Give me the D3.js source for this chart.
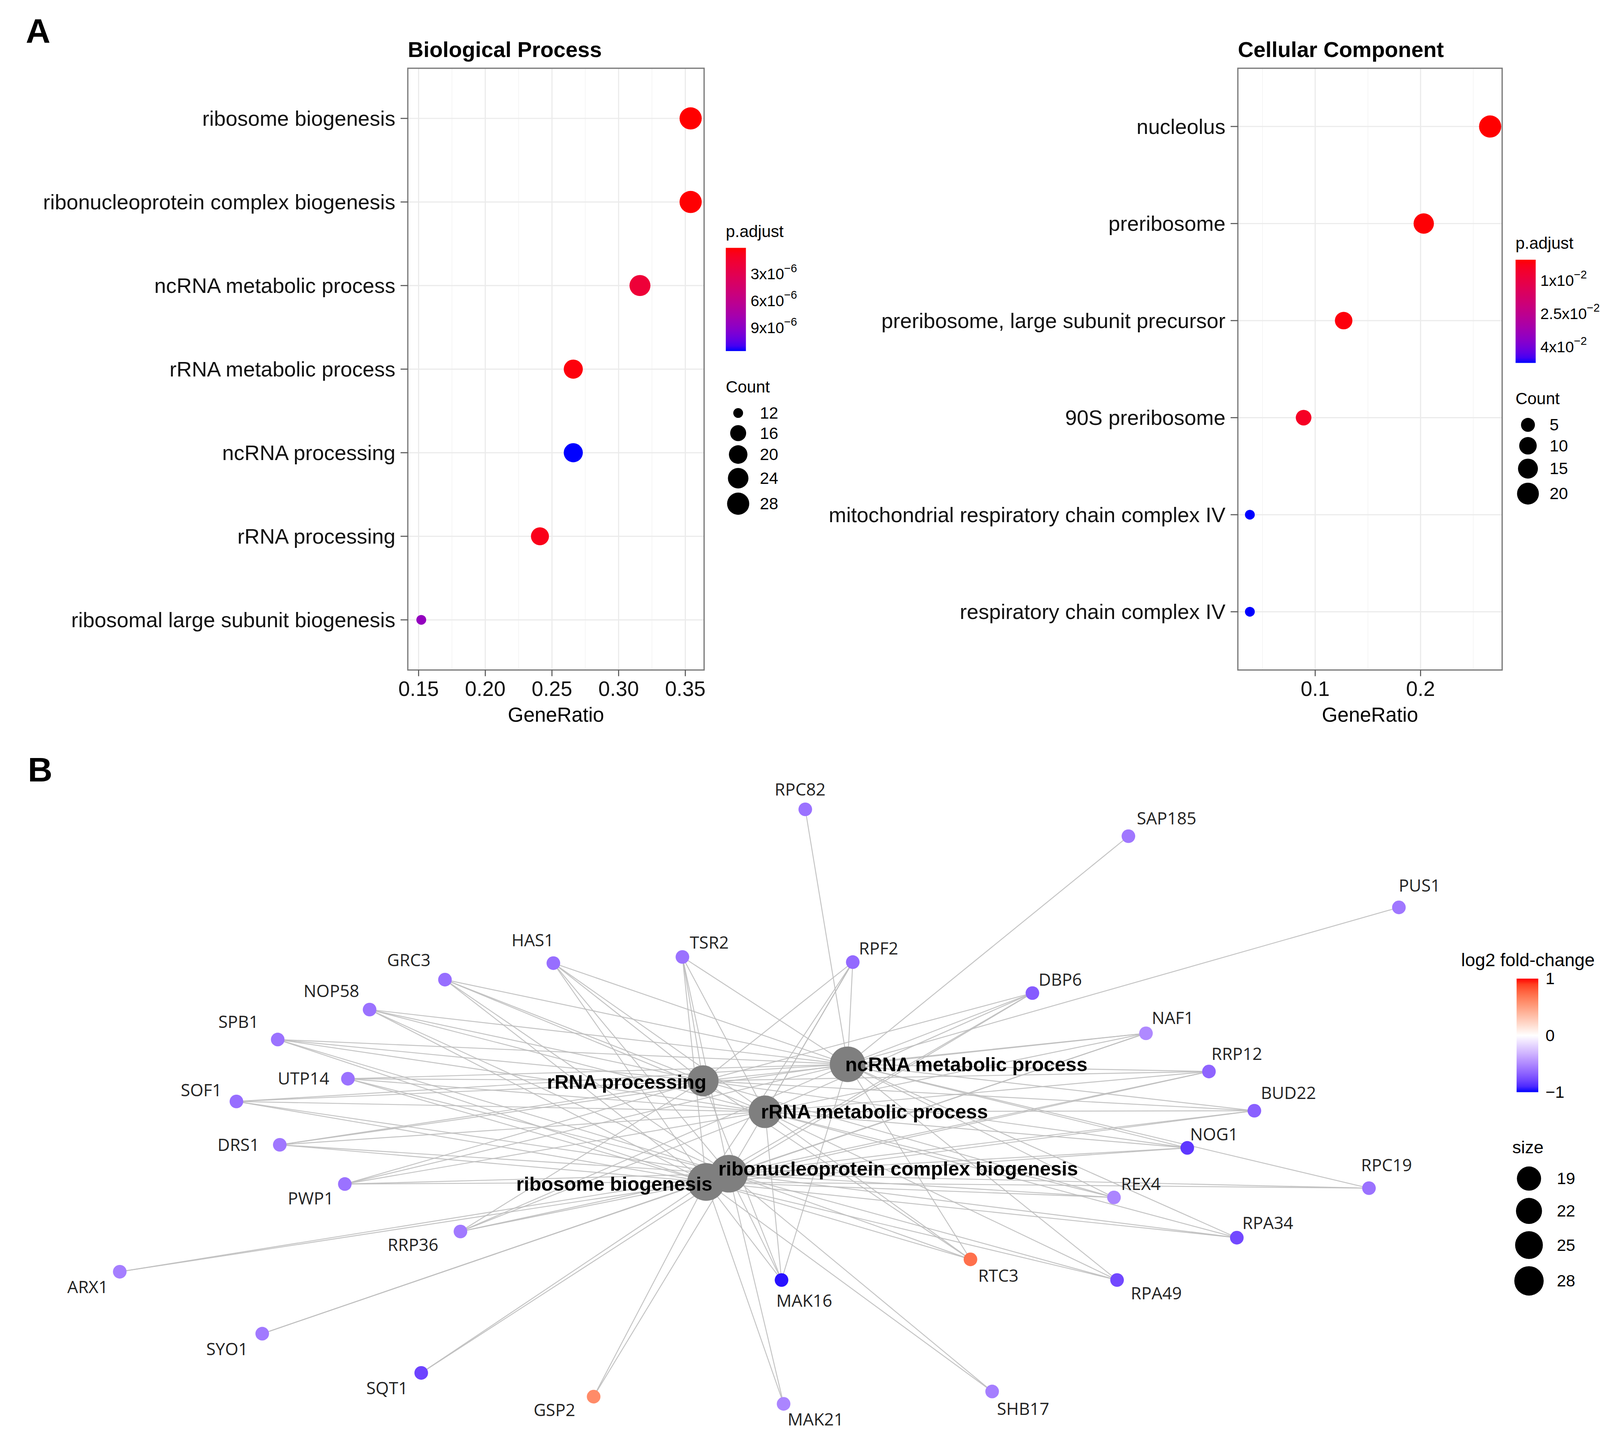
<!DOCTYPE html>
<html>
<head>
<meta charset="utf-8">
<script src="https://cdn.jsdelivr.net/npm/d3@7"></script>
<style>
  body { margin: 0; background: #fff; }
  svg { display: block; }
</style>
</head>
<body>
<div id="chart"></div>
<script>
/* ---------- Data ---------- */
// A: GO enrichment, Biological Process
const bpTerms = ["ribosome biogenesis", "ribonucleoprotein complex biogenesis", "ncRNA metabolic process",
  "rRNA metabolic process", "ncRNA processing", "rRNA processing", "ribosomal large subunit biogenesis"];
const bpRatio = [0.354, 0.354, 0.316, 0.266, 0.266, 0.241, 0.152];
const bpCount = [28, 28, 25, 21, 21, 19, 12];
const bpPadj = [1.2e-7, 1.5e-7, 1.9e-6, 3.5e-7, 1.165e-5, 7e-7, 8.6e-6];
const bpXTicks = [0.15, 0.20, 0.25, 0.30, 0.35];
const bpPTicks = [3e-6, 6e-6, 9e-6];
const bpCountBreaks = [12, 16, 20, 24, 28];

// A: GO enrichment, Cellular Component
const ccTerms = ["nucleolus", "preribosome", "preribosome, large subunit precursor", "90S preribosome",
  "mitochondrial respiratory chain complex IV", "respiratory chain complex IV"];
const ccRatio = [0.266, 0.203, 0.127, 0.089, 0.038, 0.038];
const ccCount = [21, 16, 10, 7, 3, 3];
const ccPadj = [8e-4, 1.1e-3, 1.6e-3, 4.5e-3, 0.0474, 0.0474];
const ccXTicks = [0.1, 0.2];
const ccPTicks = [1e-2, 2.5e-2, 4e-2];
const ccCountBreaks = [5, 10, 15, 20];

// B: gene-concept network
const catNames = ["ribosome biogenesis", "ribonucleoprotein complex biogenesis", "rRNA metabolic process",
  "rRNA processing", "ncRNA metabolic process"];
const catSize = [28, 28, 21, 19, 25];
const geneNames = ["RPC82", "SAP185", "PUS1", "HAS1", "TSR2", "RPF2", "GRC3", "DBP6", "NOP58", "NAF1",
  "SPB1", "RRP12", "UTP14", "SOF1", "BUD22", "NOG1", "DRS1", "REX4", "RPC19", "PWP1",
  "RPA34", "RRP36", "RTC3", "RPA49", "MAK16", "ARX1", "SYO1", "SQT1", "GSP2", "MAK21", "SHB17"];
const geneFC = [-0.6, -0.58, -0.58, -0.62, -0.6, -0.64, -0.62, -0.7, -0.6, -0.5,
  -0.6, -0.66, -0.6, -0.62, -0.68, -0.85, -0.58, -0.52, -0.6, -0.6,
  -0.78, -0.57, 0.72, -0.78, -0.97, -0.55, -0.57, -0.8, 0.6, -0.52, -0.55];
// category membership (indices into catNames)
const ALL = [0, 1, 2, 3, 4], NC = [4], RIBO = [0, 1];
const geneTerms = [NC, NC, NC, ALL, ALL, ALL, ALL, ALL, ALL, ALL,
  ALL, ALL, ALL, ALL, ALL, ALL, ALL, ALL, [0, 1, 4], ALL,
  [0, 1, 2, 4], ALL, ALL, [0, 1, 2, 4], ALL, RIBO, RIBO, RIBO, RIBO, RIBO, RIBO];
const sizeBreaks = [19, 22, 25, 28];
const fcTicks = [1, 0, -1];

// network layout (graph layout units)
const catLayout = [[-0.16, -0.45], [0.06, -0.37], [0.41, 0.23], [-0.19, 0.53], [1.21, 0.69]];
const geneLayout = [[0.80, 3.16], [3.93, 2.90], [6.55, 2.21], [-1.64, 1.67], [-0.39, 1.73], [1.26, 1.68],
  [-2.69, 1.51], [3.00, 1.38], [-3.42, 1.22], [4.10, 0.99], [-4.31, 0.93], [4.71, 0.62], [-3.63, 0.55],
  [-4.71, 0.33], [5.15, 0.24], [4.50, -0.12], [-4.29, -0.09], [3.79, -0.60], [6.26, -0.51], [-3.66, -0.47],
  [4.98, -0.99], [-2.54, -0.93], [2.40, -1.20], [3.82, -1.40], [0.57, -1.40], [-5.84, -1.32], [-4.46, -1.92],
  [-2.92, -2.30], [-1.25, -2.53], [0.59, -2.60], [2.61, -2.48]];
const geneLabelNudge = [[-5, -19], [37, -17], [20, -21], [-20, -22], [26, -14], [25, -13], [-35, -19],
  [27, -13], [-37, -18], [26, -15], [-38, -17], [27, -17], [-43, 0], [-34, -11], [33, -17], [26, -13],
  [-40, 0], [26, -13], [17, -22], [-33, 14], [30, -14], [-46, 13], [27, 16], [38, 13], [22, 20],
  [-31, 15], [-34, 15], [-33, 15], [-38, 13], [31, 15], [30, 17]];
const catLabelNudge = [[-89, 2], [164, -5], [106, 0], [-74, 1], [115, 0]];

/* ---------- Canvas ---------- */
const W = 1560, H = 1391;
const svg = d3.select("#chart").append("svg")
  .attr("width", 4123).attr("height", 3677)
  .attr("viewBox", `0 0 ${W} ${H}`)
  .style("font-family", "'Liberation Sans', Arial, sans-serif");
svg.append("rect").attr("width", W).attr("height", H).attr("fill", "#fff");
const defs = svg.append("defs");

// panel letters
svg.append("text").attr("x", 25).attr("y", 41).attr("font-size", 33).attr("font-weight", "bold").text("A");
svg.append("text").attr("x", 27).attr("y", 757).attr("font-size", 33).attr("font-weight", "bold").text("B");

// superscript label like 3x10^-6
function sciLabel(sel, v) {
  const e = Math.floor(Math.log10(v) + 1e-9);
  const m = +(v / Math.pow(10, e)).toFixed(2);
  sel.text(d3.format("~g")(m) + "x10");
  sel.append("tspan").attr("dy", -7).attr("font-size", 11).text("\u2212" + Math.abs(e));
}

function colorbar(id, x0, y0, w, h, scale, topVal, botVal) {
  const grad = defs.append("linearGradient").attr("id", id)
    .attr("x1", 0).attr("y1", 0).attr("x2", 0).attr("y2", 1);
  d3.range(0, 1.0001, 0.05).forEach(t => {
    grad.append("stop").attr("offset", t).attr("stop-color", scale(topVal + (botVal - topVal) * t));
  });
  svg.append("rect").attr("x", x0).attr("y", y0).attr("width", w).attr("height", h)
    .attr("fill", `url(#${id})`);
}

/* ---------- Dot plots ---------- */
function dotPlot(cfg) {
  const { terms, ratio, count, padj, xTicks, pTicks, countBreaks, title, box, legX, legTop, id } = cfg;
  const g = svg.append("g");
  const ext = d3.extent(ratio), pad = (ext[1] - ext[0]) * 0.05;
  const x = d3.scaleLinear().domain([ext[0] - pad, ext[1] + pad]).range([box.x0, box.x1]);
  const y = d3.scalePoint().domain(terms).range([box.y0, box.y1]).padding(0.6);
  const color = d3.scaleLinear().domain(d3.extent(padj)).range(["#ff0000", "#0000ff"])
    .interpolate(d3.interpolateLab);
  const sizeT = d3.scaleLinear().domain(d3.extent(count)).range([0, 1]);
  const rOut = d3.scaleSqrt().domain([0, 1]).range([4.75, 10.75]);
  const r = c => rOut(Math.max(0, sizeT(c)));

  // grid
  const step = xTicks[1] - xTicks[0];
  const minors = d3.range(xTicks[0] - step / 2, x.domain()[1], step).filter(v => v > x.domain()[0]);
  g.selectAll(".minor").data(minors).join("line")
    .attr("x1", d => x(d)).attr("x2", d => x(d)).attr("y1", box.y0).attr("y2", box.y1)
    .attr("stroke", "#f3f3f3").attr("stroke-width", 0.6);
  g.selectAll(".gx").data(xTicks).join("line")
    .attr("x1", d => x(d)).attr("x2", d => x(d)).attr("y1", box.y0).attr("y2", box.y1)
    .attr("stroke", "#ebebeb").attr("stroke-width", 1.1);
  g.selectAll(".gy").data(terms).join("line")
    .attr("x1", box.x0).attr("x2", box.x1).attr("y1", d => y(d)).attr("y2", d => y(d))
    .attr("stroke", "#ebebeb").attr("stroke-width", 1.1);

  // points
  g.selectAll(".pt").data(terms).join("circle")
    .attr("cx", (d, i) => x(ratio[i])).attr("cy", d => y(d))
    .attr("r", (d, i) => r(count[i])).attr("fill", (d, i) => color(padj[i]));

  // border
  g.append("rect").attr("x", box.x0).attr("y", box.y0)
    .attr("width", box.x1 - box.x0).attr("height", box.y1 - box.y0)
    .attr("fill", "none").attr("stroke", "#7a7a7a").attr("stroke-width", 1.2);

  // axes
  g.selectAll(".ty").data(terms).join("line")
    .attr("x1", box.x0 - 7).attr("x2", box.x0).attr("y1", d => y(d)).attr("y2", d => y(d))
    .attr("stroke", "#555").attr("stroke-width", 1);
  g.selectAll(".ly").data(terms).join("text")
    .attr("x", box.x0 - 12).attr("y", d => y(d)).attr("dy", "0.35em")
    .attr("text-anchor", "end").attr("font-size", 20.4).attr("fill", "#111").text(d => d);
  g.selectAll(".tx").data(xTicks).join("line")
    .attr("x1", d => x(d)).attr("x2", d => x(d)).attr("y1", box.y1).attr("y2", box.y1 + 6)
    .attr("stroke", "#555").attr("stroke-width", 1);
  g.selectAll(".lx").data(xTicks).join("text")
    .attr("x", d => x(d)).attr("y", box.y1 + 25).attr("text-anchor", "middle")
    .attr("font-size", 20.2).attr("fill", "#111").text(d => step < 0.1 ? d3.format(".2f")(d) : d3.format(".1f")(d));
  g.append("text").attr("x", (box.x0 + box.x1) / 2).attr("y", box.y1 + 50)
    .attr("text-anchor", "middle").attr("font-size", 19.5).text("GeneRatio");
  g.append("text").attr("x", box.x0).attr("y", box.y0 - 11)
    .attr("font-size", 21).attr("font-weight", "bold").text(title);

  // legend: p.adjust
  g.append("text").attr("x", legX).attr("y", legTop).attr("font-size", 16).text("p.adjust");
  const barY0 = legTop + 10.5, barH = 100, barW = 19.5;
  const pext = d3.extent(padj);
  colorbar("grad-" + id, legX, barY0, barW, barH, color, pext[0], pext[1]);
  const py = d3.scaleLinear().domain(pext).range([barY0, barY0 + barH]);
  pTicks.forEach(v => {
    g.append("line").attr("x1", legX).attr("x2", legX + 4).attr("y1", py(v)).attr("y2", py(v))
      .attr("stroke", "#fff").attr("stroke-width", 1);
    g.append("line").attr("x1", legX + barW - 4).attr("x2", legX + barW).attr("y1", py(v)).attr("y2", py(v))
      .attr("stroke", "#fff").attr("stroke-width", 1);
    g.append("text").attr("x", legX + 24).attr("y", py(v) + 5.5).attr("font-size", 15)
      .call(sciLabel, v);
  });

  // legend: Count
  g.append("text").attr("x", legX).attr("y", legTop + 150.5).attr("font-size", 16).text("Count");
  let cy = legTop + 160.75;
  countBreaks.forEach((c, i) => {
    const h = Math.max(19.5, 2 * r(c) + 4);
    const yc = cy + h / 2;
    g.append("circle").attr("cx", legX + 12).attr("cy", yc).attr("r", r(c)).attr("fill", "#000");
    g.append("text").attr("x", legX + 33).attr("y", yc + 5.5).attr("font-size", 16).text(c);
    cy += h;
  });
}

dotPlot({ terms: bpTerms, ratio: bpRatio, count: bpCount, padj: bpPadj, xTicks: bpXTicks, pTicks: bpPTicks,
  countBreaks: bpCountBreaks, title: "Biological Process", box: { x0: 395, x1: 682, y0: 66, y1: 649 },
  legX: 703, legTop: 229.5, id: "bp" });
dotPlot({ terms: ccTerms, ratio: ccRatio, count: ccCount, padj: ccPadj, xTicks: ccXTicks, pTicks: ccPTicks,
  countBreaks: ccCountBreaks, title: "Cellular Component", box: { x0: 1199, x1: 1455, y0: 66, y1: 649 },
  legX: 1468, legTop: 241, id: "cc" });

/* ---------- Network ---------- */
const nx = d3.scaleLinear().domain([-7, 7]).range([0, 1400]);
const ny = d3.scaleLinear().domain([-3, 4]).range([1400, 700]);
const fcColor = d3.scaleLinear().domain([-1, 0, 1]).range(["#0000ff", "#ffffff", "#ff0000"])
  .interpolate(d3.interpolateLab);
const catR = d3.scaleSqrt().domain([0, 28]).range([0, 18.25]);
const geneR = 6.6;

const net = svg.append("g");
const edges = [];
geneNames.forEach((gname, gi) => geneTerms[gi].forEach(ci => edges.push({ gi, ci })));

net.selectAll(".edge").data(edges).join("line")
  .attr("x1", d => nx(catLayout[d.ci][0])).attr("y1", d => ny(catLayout[d.ci][1]))
  .attr("x2", d => nx(geneLayout[d.gi][0])).attr("y2", d => ny(geneLayout[d.gi][1]))
  .attr("stroke", "#bdbdbd").attr("stroke-width", 0.9).attr("stroke-opacity", 0.9);

net.selectAll(".gnode").data(geneNames).join("circle")
  .attr("cx", (d, i) => nx(geneLayout[i][0])).attr("cy", (d, i) => ny(geneLayout[i][1]))
  .attr("r", geneR).attr("fill", (d, i) => fcColor(geneFC[i]));

net.selectAll(".cnode").data(catNames).join("circle")
  .attr("cx", (d, i) => nx(catLayout[i][0])).attr("cy", (d, i) => ny(catLayout[i][1]))
  .attr("r", (d, i) => catR(catSize[i])).attr("fill", "#7f7f7f");

net.selectAll(".glab").data(geneNames).join("text")
  .attr("x", (d, i) => nx(geneLayout[i][0]) + geneLabelNudge[i][0])
  .attr("y", (d, i) => ny(geneLayout[i][1]) + geneLabelNudge[i][1])
  .attr("dy", "0.35em").attr("text-anchor", "middle")
  .attr("font-family", "'Open Sans', 'Noto Sans', sans-serif").attr("font-size", 16.5)
  .attr("fill", "#222").text(d => d);

net.selectAll(".clab").data(catNames).join("text")
  .attr("x", (d, i) => nx(catLayout[i][0]) + catLabelNudge[i][0])
  .attr("y", (d, i) => ny(catLayout[i][1]) + catLabelNudge[i][1])
  .attr("dy", "0.35em").attr("text-anchor", "middle")
  .attr("font-size", 19).attr("font-weight", "bold").attr("fill", "#000").text(d => d);

// legend: log2 fold-change
const lg = svg.append("g");
lg.append("text").attr("x", 1480).attr("y", 936).attr("text-anchor", "middle")
  .attr("font-size", 17.5).text("log2 fold-change");
const fbY0 = 948, fbH = 110;
colorbar("grad-fc", 1469, fbY0, 21, fbH, fcColor, 1, -1);
const fy = d3.scaleLinear().domain([1, -1]).range([fbY0, fbY0 + fbH]);
fcTicks.forEach(v => {
  lg.append("text").attr("x", 1497).attr("y", fy(v) + 5.5).attr("font-size", 16)
    .text(v < 0 ? "\u2212" + Math.abs(v) : v);
});

// legend: size
lg.append("text").attr("x", 1480).attr("y", 1117).attr("text-anchor", "middle")
  .attr("font-size", 17).text("size");
let sy = 1126.5;
sizeBreaks.forEach(v => {
  const rr = catR(v) * 0.78;
  const h = 2 * rr + 7;
  const yc = sy + h / 2;
  lg.append("circle").attr("cx", 1481).attr("cy", yc).attr("r", rr).attr("fill", "#000");
  lg.append("text").attr("x", 1508).attr("y", yc + 5.5).attr("font-size", 16).text(v);
  sy += h;
});
</script>
</body>
</html>
